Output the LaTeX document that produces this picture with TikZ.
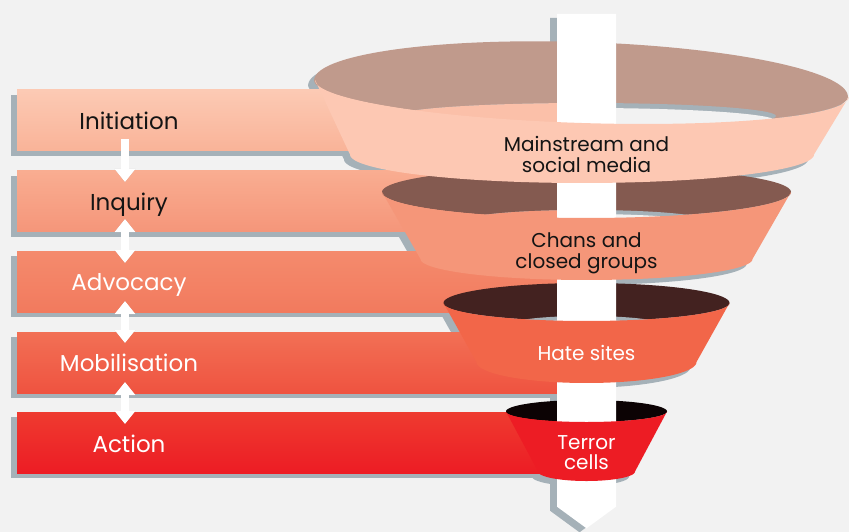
\documentclass[tikz,border=0pt]{standalone}
\usepackage{fontspec}
\setmainfont{Poppins}
\usetikzlibrary{arrows.meta,calc}
\definecolor{bg}{HTML}{F2F2F2}
\definecolor{shd}{HTML}{A5B1B8}
\definecolor{txtdark}{HTML}{141414}
\definecolor{fAtop}{HTML}{C09A8C}
\definecolor{fAband}{HTML}{FDC8B3}
\definecolor{fBtop}{HTML}{845A50}
\definecolor{fBband}{HTML}{F59679}
\definecolor{fCtop}{HTML}{432220}
\definecolor{fCband}{HTML}{F26649}
\definecolor{fDtop}{HTML}{0C0304}
\definecolor{fDband}{HTML}{ED1C24}
% top ellipse: #1 options, #2 cx, #3 cy, #4 rx, #5 ry back, #6 ry front, #7 tilt
\newcommand\TopEll[7]{%
  \fill[#1] plot[domain=0:180,samples=90,variable=\t]
    ({#2+#4*cos(\t)*cos(#7)-#6*sin(\t)*sin(#7)},{#3+#4*cos(\t)*sin(#7)+#6*sin(\t)*cos(#7)})
    -- plot[domain=180:360,samples=90,variable=\t]
    ({#2+#4*cos(\t)*cos(#7)-#5*sin(\t)*sin(#7)},{#3+#4*cos(\t)*sin(#7)+#5*sin(\t)*cos(#7)})
    -- cycle;}
% band: #1 options, #2 cx, #3 top cy, #4 top rx, #5 top ry front, #6 tilt, #7 bottom cy, #8 bottom rx, #9 bottom ry
\newcommand\Band[9]{%
  \fill[#1] plot[domain=0:180,samples=90,variable=\t]
    ({#2+#4*cos(\t)*cos(#6)-#5*sin(\t)*sin(#6)},{#3+#4*cos(\t)*sin(#6)+#5*sin(\t)*cos(#6)})
    -- plot[domain=180:0,samples=90,variable=\t]
    ({#2+#8*cos(\t)},{#7+#9*sin(\t)})
    -- cycle;}
\begin{document}
\begin{tikzpicture}[x=1pt,y=-1pt,
  lab/.style={font=\fontsize{23}{26}\selectfont, inner sep=0pt, anchor=base},
  ftxt/.style={font=\fontsize{20}{20.3}\selectfont, align=center, inner sep=0pt},
  fatarrow/.style={draw=white, line width=8pt},
  fatshadow/.style={draw=black, opacity=.18, line width=8pt},
  onehead/.style={-{Triangle[width=20pt,length=13pt]}},
  twohead/.style={{Triangle[width=20pt,length=13pt]}-{Triangle[width=20pt,length=13pt]}}]

\fill[bg] (0,0) rectangle (849,532);
\useasboundingbox (0,0) rectangle (849,532);

% ---------- shadows ----------
\foreach \y in {90,171,251,332,412} \fill[shd] (11,\y+5) rectangle (564,\y+66);
\begin{scope}[shift={(-6,5)}]
  \TopEll{shd}{581}{88.5}{267}{46.5}{34.5}{1.8}
  \Band{shd}{582}{88.5}{267}{34.5}{1.8}{154.5}{232}{28.5}
  \TopEll{shd}{586.5}{192}{204.5}{25}{26}{0}
  \Band{shd}{586.5}{192}{204.5}{26}{0}{259}{166}{21}
  \TopEll{shd}{586.5}{303}{143}{20}{18}{0}
  \Band{shd}{586.5}{303}{143}{18}{0}{362}{110}{21}
  \TopEll{shd}{586.5}{411.5}{80.5}{11.5}{10.5}{0}
  \Band{shd}{586.5}{411.5}{80.5}{10.5}{0}{471.5}{48.5}{9.5}
\end{scope}
\fill[shd] (550,18) -- (609,18) -- (609,510.7) -- (579.5,532.3) -- (550,510.7) -- cycle;

% ---------- bars ----------
\shade[top color={rgb,255:red,252;green,202;blue,180}, bottom color={rgb,255:red,249;green,179;blue,152}] (17,90) rectangle (570,151);
\shade[top color={rgb,255:red,249;green,173;blue,145}, bottom color={rgb,255:red,245;green,150;blue,122}] (17,171) rectangle (570,231);
\shade[top color={rgb,255:red,244;green,139;blue,109}, bottom color={rgb,255:red,242;green,122;blue,94}] (17,251) rectangle (570,312);
\shade[top color={rgb,255:red,242;green,112;blue,85}, bottom color={rgb,255:red,239;green,83;blue,64}] (17,332) rectangle (570,393);
\shade[top color={rgb,255:red,238;green,59;blue,48}, bottom color={rgb,255:red,237;green,28;blue,36}] (17,412) rectangle (570,473);

% ---------- labels ----------
\node[lab, text=txtdark] (l1) at (129,130) {Initiation};
\node[lab, text=txtdark] (l2) at (129,210) {Inquiry};
\node[lab, text=white] (l3) at (129,290.5) {Advocacy};
\node[lab, text=white] (l4) at (129,371) {Mobilisation};
\node[lab, text=white] (l5) at (129,452) {Action};

% ---------- small arrows ----------
\begin{scope}[shift={(2.5,2.5)}]
\draw[fatshadow, onehead] ($(l1.base)+(-4,9)$) -- ($(l2.base)+(-4,-28)$);
\draw[fatshadow, twohead] ($(l2.base)+(-4,9)$) -- ($(l3.base)+(-4,-27.5)$);
\draw[fatshadow, twohead] ($(l3.base)+(-4,10.5)$) -- ($(l4.base)+(-4,-28)$);
\draw[fatshadow, twohead] ($(l4.base)+(-4,11)$) -- ($(l5.base)+(-4,-28)$);
\end{scope}
\draw[fatarrow, onehead] ($(l1.base)+(-4,9)$) -- ($(l2.base)+(-4,-28)$);
\draw[fatarrow, twohead] ($(l2.base)+(-4,9)$) -- ($(l3.base)+(-4,-27.5)$);
\draw[fatarrow, twohead] ($(l3.base)+(-4,10.5)$) -- ($(l4.base)+(-4,-28)$);
\draw[fatarrow, twohead] ($(l4.base)+(-4,11)$) -- ($(l5.base)+(-4,-28)$);

% ---------- funnel openings ----------
\TopEll{fAtop}{581}{88.5}{267}{46.5}{34.5}{1.8}
\begin{scope}
  \clip (586,116) ellipse [x radius=190pt, y radius=13pt];
  \fill[shd] (380,90) rectangle (800,140);
  \fill[bg] (586,121) ellipse [x radius=190pt, y radius=13pt];
  \fill[fill={rgb,255:red,251;green,192;blue,169}] (380,90) rectangle (572,140);
\end{scope}
\TopEll{fBtop}{586.5}{192}{204.5}{25}{26}{0}
\begin{scope}
  \clip (586,220) ellipse [x radius=118pt, y radius=10pt];
  \fill[shd] (460,200) rectangle (720,240);
  \fill[bg] (586,224) ellipse [x radius=118pt, y radius=10pt];
  \fill[fBband] (460,200) rectangle (572,240);
\end{scope}
\TopEll{fCtop}{586.5}{303}{143}{20}{18}{0}
\begin{scope}
  \clip (586,324) ellipse [x radius=74pt, y radius=8pt];
  \fill[shd] (500,310) rectangle (680,340);
  \fill[bg] (586,328) ellipse [x radius=74pt, y radius=8pt];
\end{scope}
\TopEll{fDtop}{586.5}{411.5}{80.5}{11.5}{10.5}{0}

% ---------- central arrow ----------
\fill[white] (557,14) -- (616,14) -- (616,506.7) -- (586.5,528.3) -- (557,506.7) -- cycle;

% ---------- funnel bands ----------
\Band{fAband}{582}{88.5}{267}{34.5}{1.8}{154.5}{232}{28.5}
\Band{fBband}{586.5}{192}{204.5}{26}{0}{259}{166}{21}
\Band{fCband}{586.5}{303}{143}{18}{0}{362}{110}{21}
\Band{fDband}{586.5}{411.5}{80.5}{10.5}{0}{471.5}{48.5}{9.5}

% ---------- funnel texts ----------
\node[ftxt, text=txtdark] (t1) at (586.5,154.5) {Mainstream and\\social media};
\node[ftxt, text=txtdark] (t2) at (586.5,253.4) {Chans and\\closed groups};
\node[ftxt, text=white, anchor=base] (t3) at (586.5,360.7) {Hate sites};
\node[ftxt, text=white] (t4) at (586.5,452.7) {Terror\\cells};
\end{tikzpicture}
\end{document}
